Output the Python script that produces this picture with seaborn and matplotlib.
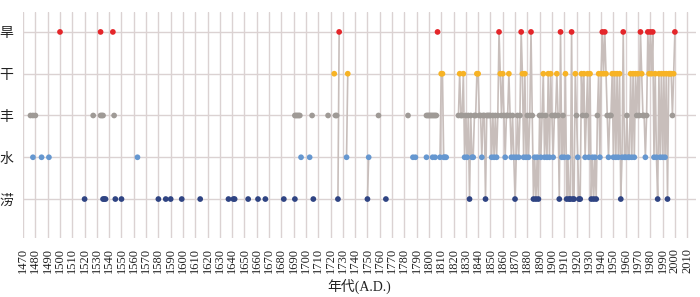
import numpy as np
import pandas as pd
import matplotlib
matplotlib.use("Agg")
import matplotlib.pyplot as plt
import seaborn as sns

# ---------------- data ----------------
level_order = ["涝", "水", "丰", "干", "旱"]          # bottom -> top
level_colors = {"旱": "#e4262a", "干": "#f7b325", "丰": "#9f9a96",
                "水": "#6597d0", "涝": "#2f4483"}

# scattered historical records (not part of a continuous annual series)
scatter_years = [1500, 1533, 1543, 1807,
                 1723,
                 1476, 1478, 1480, 1527, 1533, 1534, 1535, 1544, 1691, 1692, 1693, 1694, 1695,
                 1705, 1718, 1724, 1725, 1759, 1783, 1798, 1799, 1800, 1801, 1802, 1803, 1804,
                 1805, 1806,
                 1478, 1485, 1491, 1563, 1696, 1703, 1787, 1789, 1798, 1803, 1805,
                 1520, 1535, 1536, 1537, 1545, 1550, 1580, 1586, 1590, 1599, 1614, 1637, 1641,
                 1642, 1653, 1661, 1667, 1682, 1691, 1706, 1765]
scatter_levels = (["旱"] * 4 + ["干"] * 1 + ["丰"] * 28 + ["水"] * 11 + ["涝"] * 21)

# continuous annual records (consecutive years are joined by a line)
series_years = ([1726, 1727, 1733, 1734, 1750, 1751]
                + list(range(1809, 1815)) + list(range(1824, 2001)))
series_levels = (
    ["涝", "旱", "水", "干", "涝", "水"]
    + ["水", "干", "干", "水", "水", "水"]
    # 1824-1850
    + ["丰", "干", "丰", "丰", "干", "水", "丰", "水", "丰", "涝", "丰", "水", "水", "丰",
       "丰", "干", "干", "丰", "丰", "水", "丰", "丰", "涝", "丰", "丰", "丰", "丰"]
    # 1851-1890
    + ["水", "丰", "水", "丰", "水", "丰", "旱", "干", "丰", "干", "丰", "水", "丰", "丰",
       "干", "丰", "水", "丰", "水", "涝", "水", "丰", "水", "丰", "旱", "干", "水", "干",
       "水", "丰", "水", "丰", "旱", "丰", "涝", "水", "涝", "水", "涝", "丰"]
    # 1891-1926
    + ["水", "丰", "干", "水", "丰", "水", "干", "水", "干", "丰", "水", "丰", "丰", "干",
       "丰", "涝", "旱", "水", "丰", "水", "干", "涝", "水", "涝", "涝", "旱", "涝", "涝",
       "干", "丰", "水", "涝", "涝", "干", "丰", "干"]
    # 1927-1968
    + ["水", "丰", "干", "水", "干", "涝", "水", "涝", "水", "涝", "丰", "干", "水", "干",
       "旱", "干", "旱", "干", "丰", "水", "丰", "丰", "干", "水", "干", "水", "干", "水",
       "干", "涝", "水", "旱", "水", "水", "丰", "水", "水", "干", "水", "干", "水", "干"]
    # 1969-2000
    + ["丰", "干", "丰", "旱", "干", "丰", "丰", "水", "丰", "旱", "干", "旱", "干", "旱",
       "水", "干", "水", "涝", "干", "水", "干", "水", "干", "水", "干", "涝", "干", "干",
       "干", "丰", "干", "旱"]
)

tick_years = list(range(1470, 2011, 10))

# ---------------- frames ----------------
ypos = {lv: i for i, lv in enumerate(level_order)}
series = pd.DataFrame({"year": series_years, "level": series_levels})
series["y"] = series["level"].map(ypos)
series["segment"] = (series["year"].diff() != 1).cumsum()

points = pd.concat([
    pd.DataFrame({"year": scatter_years, "level": scatter_levels}),
    series[["year", "level"]],
], ignore_index=True)
points["y"] = points["level"].map(ypos)

# ---------------- plot ----------------
sns.set_style("white")
plt.rcParams["font.family"] = ["Liberation Serif", "Noto Sans CJK SC"]

fig = plt.figure(figsize=(7.0, 2.97), dpi=100)
ax = fig.add_axes([0.033, 0.199, 0.961, 0.761])

sns.lineplot(data=series, x="year", y="y", units="segment", estimator=None,
             sort=False, color="#c8bebb", linewidth=1.2, ax=ax, zorder=2)
sns.scatterplot(data=points, x="year", y="y", hue="level", palette=level_colors,
                s=17, linewidth=0, legend=False, ax=ax, zorder=3)

ax.set_xlim(1470, 2017)
ax.set_ylim(-0.93, 4.48)
ax.set_xticks(tick_years)
ax.set_xticklabels([str(t) for t in tick_years], rotation=90,
                   fontsize=9, family="Liberation Serif", color="#222222")
ax.set_yticks(range(len(level_order)))
ax.set_yticklabels(level_order, fontsize=10, family=["Noto Sans CJK SC"], color="#222222")
ax.tick_params(axis="both", length=0)
ax.tick_params(axis="x", pad=7)
ax.tick_params(axis="y", pad=7)

ax.set_axisbelow(True)
ax.grid(True, color="#dbd2d2", linewidth=1.0)
for s in ax.spines.values():
    s.set_visible(False)

ax.set_ylabel("")
ax.set_xlabel("年代(A.D.)", fontsize=10, family=["Liberation Serif", "Noto Sans CJK SC"],
              labelpad=4, color="#222222")

fig.savefig("out.png", dpi=100)
